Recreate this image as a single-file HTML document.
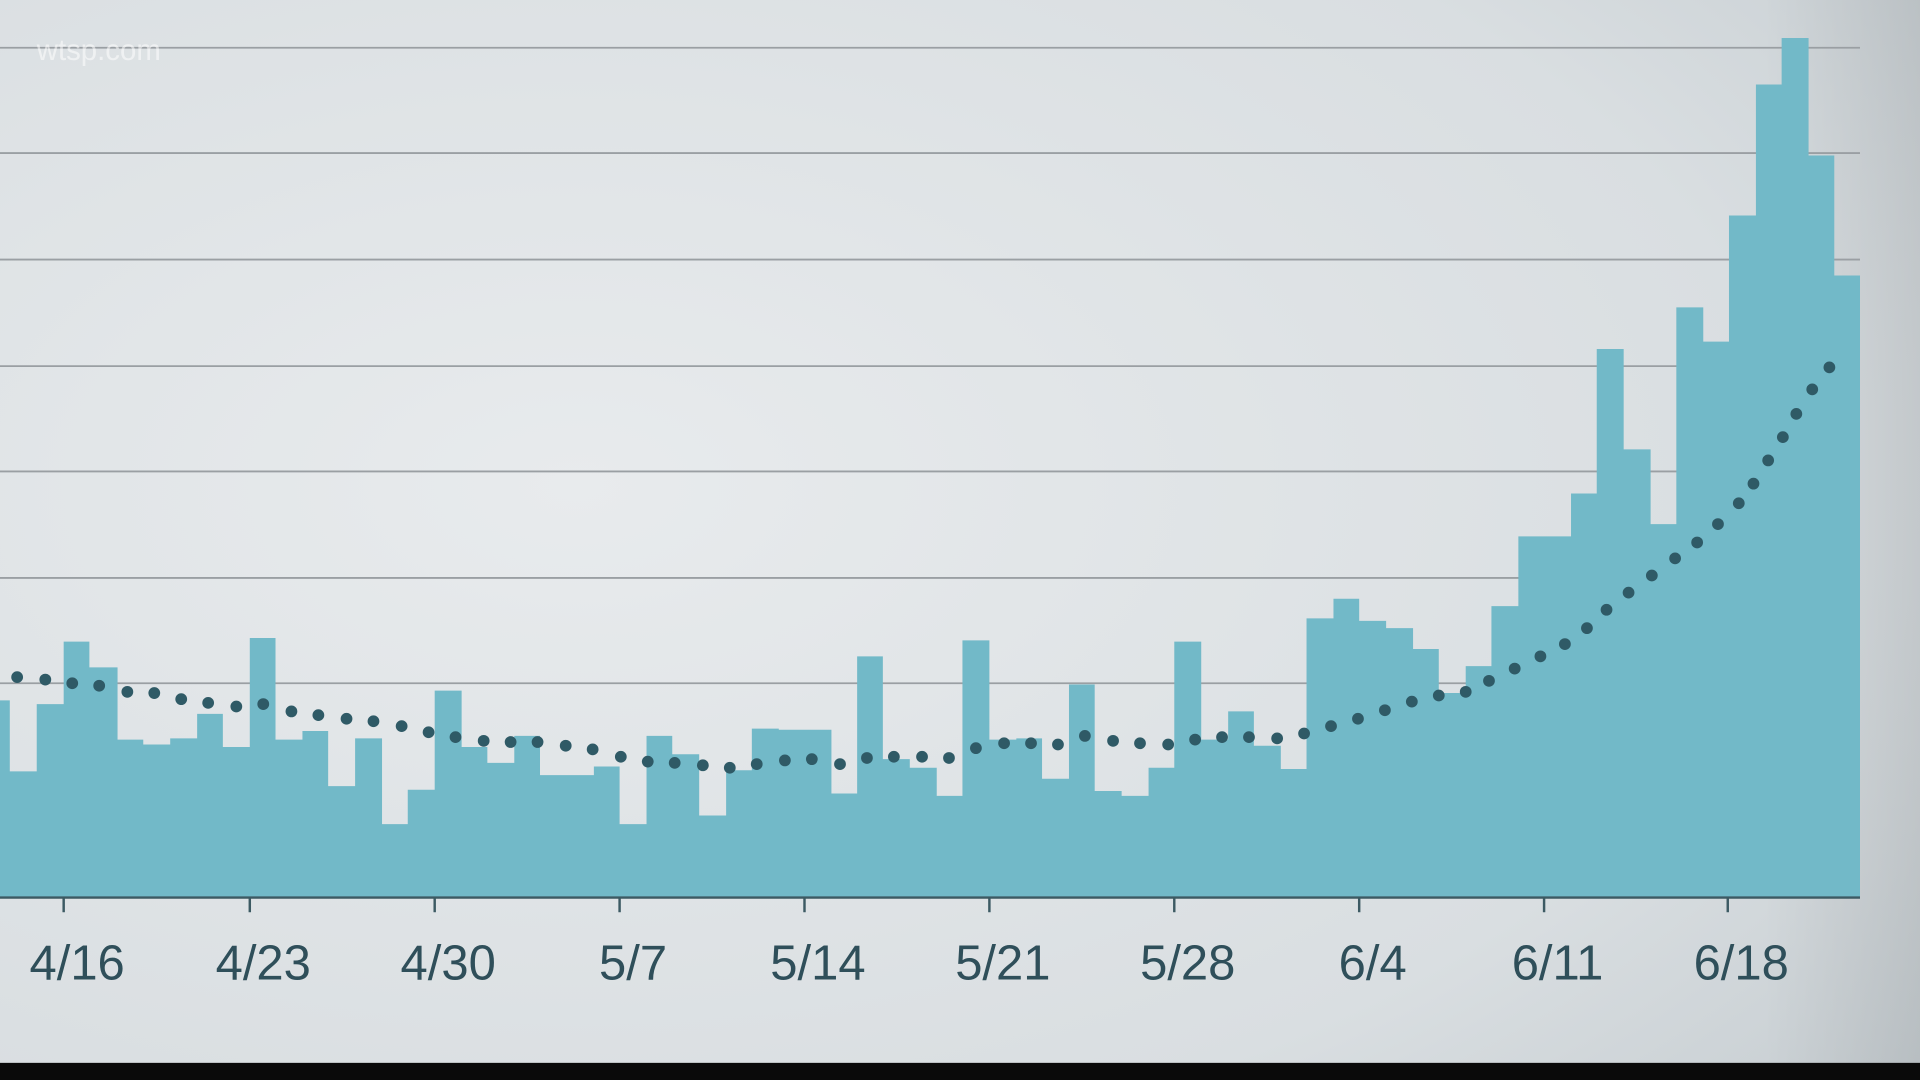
<!DOCTYPE html>
<html><head><meta charset="utf-8"><style>
html,body{margin:0;padding:0;width:1920px;height:1080px;overflow:hidden;background:#000}
svg{display:block}
</style></head><body>
<svg width="1920" height="1080" viewBox="0 0 1568 882" xmlns="http://www.w3.org/2000/svg">
<defs>
<radialGradient id="bg" cx="0.3" cy="0.45" r="0.9">
<stop offset="0" stop-color="#e8ebed"/>
<stop offset="0.7" stop-color="#d9dee1"/>
<stop offset="1" stop-color="#c6cdd1"/>
</radialGradient>
<linearGradient id="rt" x1="0" x2="1">
<stop offset="0" stop-color="#000" stop-opacity="0"/>
<stop offset="1" stop-color="#000" stop-opacity="0.08"/>
</linearGradient>
</defs>
<rect width="1568" height="882" fill="url(#bg)"/>
<rect x="1440" width="128" height="868" fill="url(#rt)"/>
<rect y="868" width="1568" height="14" fill="#0a0a0a"/>
<g stroke="#9a9fa3" stroke-width="1.5">
<line x1="0" x2="1519" y1="39" y2="39"/><line x1="0" x2="1519" y1="125" y2="125"/>
<line x1="0" x2="1519" y1="212" y2="212"/><line x1="0" x2="1519" y1="299" y2="299"/>
<line x1="0" x2="1519" y1="385" y2="385"/><line x1="0" x2="1519" y1="472" y2="472"/>
<line x1="0" x2="1519" y1="558" y2="558"/>
</g>
<text x="30" y="49" font-family="Liberation Sans, sans-serif" font-size="24" fill="#fff" opacity="0.55">wtsp.com</text>
<path fill="#72b9c8" d="M0,733 V572 H8 V630 H30 V575 H52 V524 H73 V545 H96 V604 H117 V608 H139 V603 H161 V583 H182 V610 H204 V521 H225 V604 H247 V597 H268 V642 H290 V603 H312 V673 H333 V645 H355 V564 H377 V610 H398 V623 H420 V601 H441 V633 H463 V633 H485 V626 H506 V673 H528 V601 H549 V616 H571 V666 H593 V629 H614 V595 H636 V596 H658 V596 H679 V648 H700 V536 H721 V620 H743 V627 H765 V650 H786 V523 H808 V604 H830 V603 H851 V636 H873 V559 H894 V646 H916 V650 H938 V627 H959 V524 H981 V604 H1003 V581 H1024 V609 H1046 V628 H1067 V505 H1089 V489 H1110 V507 H1132 V513 H1154 V530 H1175 V566 H1197 V544 H1218 V495 H1240 V438 H1261 V438 H1283 V403 H1304 V285 H1326 V367 H1348 V428 H1369 V251 H1391 V279 H1412 V176 H1434 V69 H1455 V31 H1477 V127 H1498 V225 H1519 V733 Z"/>
<line x1="0" x2="1519" y1="733" y2="733" stroke="#3c5a63" stroke-width="2"/>
<g stroke="#3c5a63" stroke-width="2">
<line x1="52" x2="52" y1="733" y2="745"/><line x1="204" x2="204" y1="733" y2="745"/>
<line x1="355" x2="355" y1="733" y2="745"/><line x1="506" x2="506" y1="733" y2="745"/>
<line x1="657" x2="657" y1="733" y2="745"/><line x1="808" x2="808" y1="733" y2="745"/>
<line x1="959" x2="959" y1="733" y2="745"/><line x1="1110" x2="1110" y1="733" y2="745"/>
<line x1="1261" x2="1261" y1="733" y2="745"/><line x1="1411" x2="1411" y1="733" y2="745"/>
</g>
<g font-family="Liberation Sans, sans-serif" font-size="40" fill="#2f4f5a" text-anchor="middle">
<text x="63" y="800">4/16</text><text x="215" y="800">4/23</text>
<text x="366" y="800">4/30</text><text x="517" y="800">5/7</text>
<text x="668" y="800">5/14</text><text x="819" y="800">5/21</text>
<text x="970" y="800">5/28</text><text x="1121" y="800">6/4</text>
<text x="1272" y="800">6/11</text><text x="1422" y="800">6/18</text>
</g>
<g fill="#2f5a66">
<circle cx="14" cy="553" r="4.8"/><circle cx="37" cy="555" r="4.8"/><circle cx="59" cy="558" r="4.8"/><circle cx="81" cy="560" r="4.8"/><circle cx="104" cy="565" r="4.8"/><circle cx="126" cy="566" r="4.8"/><circle cx="148" cy="571" r="4.8"/><circle cx="170" cy="574" r="4.8"/><circle cx="193" cy="577" r="4.8"/><circle cx="215" cy="575" r="4.8"/><circle cx="238" cy="581" r="4.8"/><circle cx="260" cy="584" r="4.8"/><circle cx="283" cy="587" r="4.8"/><circle cx="305" cy="589" r="4.8"/><circle cx="328" cy="593" r="4.8"/><circle cx="350" cy="598" r="4.8"/><circle cx="372" cy="602" r="4.8"/><circle cx="395" cy="605" r="4.8"/><circle cx="417" cy="606" r="4.8"/><circle cx="439" cy="606" r="4.8"/><circle cx="462" cy="609" r="4.8"/><circle cx="484" cy="612" r="4.8"/><circle cx="507" cy="618" r="4.8"/><circle cx="529" cy="622" r="4.8"/><circle cx="551" cy="623" r="4.8"/><circle cx="574" cy="625" r="4.8"/><circle cx="596" cy="627" r="4.8"/><circle cx="618" cy="624" r="4.8"/><circle cx="641" cy="621" r="4.8"/><circle cx="663" cy="620" r="4.8"/><circle cx="686" cy="624" r="4.8"/><circle cx="708" cy="619" r="4.8"/><circle cx="730" cy="618" r="4.8"/><circle cx="753" cy="618" r="4.8"/><circle cx="775" cy="619" r="4.8"/><circle cx="797" cy="611" r="4.8"/><circle cx="820" cy="607" r="4.8"/><circle cx="842" cy="607" r="4.8"/><circle cx="864" cy="608" r="4.8"/><circle cx="886" cy="601" r="4.8"/><circle cx="909" cy="605" r="4.8"/><circle cx="931" cy="607" r="4.8"/><circle cx="954" cy="608" r="4.8"/><circle cx="976" cy="604" r="4.8"/><circle cx="998" cy="602" r="4.8"/><circle cx="1020" cy="602" r="4.8"/><circle cx="1043" cy="603" r="4.8"/><circle cx="1065" cy="599" r="4.8"/><circle cx="1087" cy="593" r="4.8"/><circle cx="1109" cy="587" r="4.8"/><circle cx="1131" cy="580" r="4.8"/><circle cx="1153" cy="573" r="4.8"/><circle cx="1175" cy="568" r="4.8"/><circle cx="1197" cy="565" r="4.8"/><circle cx="1216" cy="556" r="4.8"/><circle cx="1237" cy="546" r="4.8"/><circle cx="1258" cy="536" r="4.8"/><circle cx="1278" cy="526" r="4.8"/><circle cx="1296" cy="513" r="4.8"/><circle cx="1312" cy="498" r="4.8"/><circle cx="1330" cy="484" r="4.8"/><circle cx="1349" cy="470" r="4.8"/><circle cx="1368" cy="456" r="4.8"/><circle cx="1386" cy="443" r="4.8"/><circle cx="1403" cy="428" r="4.8"/><circle cx="1420" cy="411" r="4.8"/><circle cx="1432" cy="395" r="4.8"/><circle cx="1444" cy="376" r="4.8"/><circle cx="1456" cy="357" r="4.8"/><circle cx="1467" cy="338" r="4.8"/><circle cx="1480" cy="318" r="4.8"/><circle cx="1494" cy="300" r="4.8"/>
</g>
</svg>
</body></html>
